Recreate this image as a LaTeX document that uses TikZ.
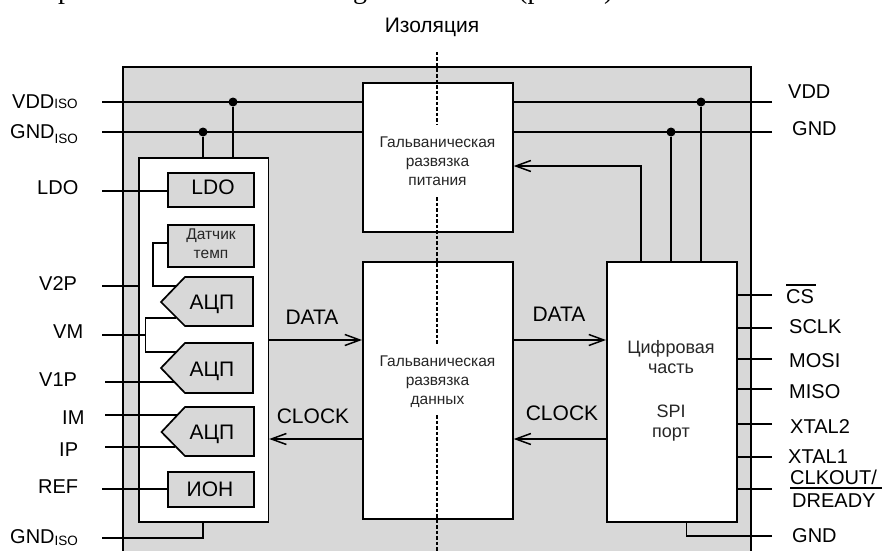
\documentclass[tikz,border=0pt]{standalone}
\usepackage{fontspec}
\setmainfont{Liberation Sans}
\newfontfamily\serifcut{Liberation Serif}
\usetikzlibrary{arrows.meta,calc}
\definecolor{panel}{HTML}{D8D8D8}
\tikzset{
  wire/.style={line width=1.7pt,line cap=butt},
  flow/.style={wire,-{Straight Barb[length=15pt,width=11pt,line width=1.5pt]}},
  block/.style={draw,line width=1.7pt,fill=white,inner sep=0pt,anchor=north west},
  subblock/.style={draw,line width=1.7pt,fill=panel,inner sep=0pt,anchor=north west},
  adcshape/.style={draw,line width=1.7pt,fill=panel},
  pin/.style={inner sep=0pt,anchor=base west,font=\fontsize{20}{24}\selectfont},
  lbl/.style={inner sep=0pt,anchor=base,font=\fontsize{21}{24}\selectfont},
  small/.style={inner sep=0pt,anchor=center,align=center,font=\fontsize{15.5}{19}\selectfont,text=black!85},
  mid/.style={inner sep=0pt,anchor=center,align=center,font=\fontsize{18}{20.5}\selectfont,text=black!85},
  junction/.style={circle,fill=black,inner sep=0pt,minimum size=9pt},
  isoline/.style={line width=2pt,dash pattern=on 3.5pt off 2pt}
}
\newcommand{\isotext}{\fontsize{13.5}{14}\selectfont ISO}
\begin{document}
\begin{tikzpicture}[x=1pt,y=-1pt]
\useasboundingbox (0,0) rectangle (883,551);
% cut-off line of text at the top edge
\begin{scope}
\clip (0,0) rectangle (883,6);
\node[inner sep=0pt,anchor=base west,font=\serifcut\fontsize{28}{30}\selectfont] (cutp) at (58,-1) {р};
\node[inner sep=0pt,anchor=base west,font=\serifcut\fontsize{28}{30}\selectfont] (cutg) at (353,-1) {g};
\node[inner sep=0pt,anchor=base west,font=\serifcut\fontsize{28}{30}\selectfont] (cutq) at (518,-1) {(р};
\node[inner sep=0pt,anchor=base west,font=\serifcut\fontsize{28}{30}\selectfont] (cutr) at (604,-1) {)};
\end{scope}
% chip panel
\fill[panel] (123,67) rectangle (751,551);
\draw[wire] (123,551) -- (123,67) -- (751,67) -- (751,551);
% pin ends
\coordinate (vddL) at (102,102);
\coordinate (gndL) at (102,132);
\coordinate (ldoL) at (102,191);
\coordinate (v2pL) at (102,286);
\coordinate (vmL) at (102,335);
\coordinate (v1pL) at (105,382);
\coordinate (imL) at (105,415);
\coordinate (ipL) at (105,447);
\coordinate (refL) at (102,489);
\coordinate (gnd2L) at (102,538);
\coordinate (vddR) at (772,102);
\coordinate (gndR) at (772,132);
\coordinate (csR) at (772,295);
\coordinate (sclkR) at (772,328);
\coordinate (mosiR) at (772,359);
\coordinate (misoR) at (772,389);
\coordinate (xt2R) at (772,424);
\coordinate (xt1R) at (772,457);
\coordinate (clkR) at (772,489);
\coordinate (gnd3R) at (772,536);
% main blocks
\node[block,minimum width=150pt,minimum height=149pt] (power) at (362,82) {};
\node[block,minimum width=150pt,minimum height=257pt] (data) at (362,261) {};
\node[block,minimum width=130pt,minimum height=260pt] (digital) at (606,261) {};
\node[block,minimum width=129.5pt,minimum height=364pt] (analog) at (138,157) {};
% analog sub-blocks
\node[subblock,minimum width=86pt,minimum height=34pt] (ldo) at (167,172) {};
\node[subblock,minimum width=86pt,minimum height=42pt] (temp) at (167,224) {};
\node[subblock,minimum width=86pt,minimum height=35pt] (ion) at (167,471) {};
\draw[adcshape] (185,277) -- (253,277) -- (253,326) -- (185,326) -- (161,302) -- cycle;
\draw[adcshape] (185,343) -- (253,343) -- (253,393) -- (185,393) -- (161,368) -- cycle;
\draw[adcshape] (185,407) -- (254,407) -- (254,456) -- (185,456) -- (161.5,432) -- cycle;
\coordinate (adc1a) at (176.4,286);
\coordinate (adc1b) at (176.4,318);
\coordinate (adc2a) at (176,352);
\coordinate (adc2b) at (174.4,382);
\coordinate (adc3a) at (177,415);
\coordinate (adc3b) at (175.4,447);
% isolation line
\coordinate (iso0) at (436.5,52);
\coordinate (iso1) at (436.5,125);
\coordinate (iso2) at (436.5,197);
\coordinate (iso3) at (436.5,345);
\coordinate (iso4) at (436.5,415);
\coordinate (iso5) at (436.5,551);
\draw[isoline] (iso0) -- (iso1);
\draw[isoline] (iso2) -- (iso3);
\draw[isoline] (iso4) -- (iso5);
% junctions
\node[junction] (jv1) at (233,102) {};
\node[junction] (jg1) at (203,132) {};
\node[junction] (jv2) at (701,102) {};
\node[junction] (jg2) at (671,132) {};
% wires
\draw[wire] (vddL) -- (vddL -| power.west);
\draw[wire] (gndL) -- (gndL -| power.west);
\draw[wire] (vddR) -- (vddR -| power.east);
\draw[wire] (gndR) -- (gndR -| power.east);
\draw[wire] (jv1) -- (jv1 |- analog.north);
\draw[wire] (jg1) -- (jg1 |- analog.north);
\draw[wire] (jv2) -- (jv2 |- digital.north);
\draw[wire] (jg2) -- (jg2 |- digital.north);
\coordinate (pwrctl) at (641,166);
\draw[flow] (pwrctl |- digital.north) -- (pwrctl) -- (pwrctl -| power.east);
\draw[wire] (ldoL) -- (ldoL -| ldo.west);
\draw[wire] (v2pL) -- (v2pL -| analog.west);
\coordinate (tb) at (153,243);
\draw[wire] (tb -| temp.west) -- (tb) -- (tb |- adc1a) -- (adc1a);
\coordinate (vmn) at (145.5,335);
\draw[wire] (vmL) -- (vmn);
\draw[wire] (adc1b) -- (adc1b -| vmn) -- (adc2a -| vmn) -- (adc2a);
\draw[wire] (v1pL) -- (adc2b);
\draw[wire] (imL) -- (adc3a);
\draw[wire] (ipL) -- (adc3b);
\draw[wire] (refL) -- (refL -| ion.west);
\coordinate (g2) at (203,538);
\draw[wire] (gnd2L) -- (g2) -- (g2 |- analog.south);
\coordinate (yd) at (0,340);
\coordinate (yc) at (0,439);
\draw[flow] (yd -| analog.east) -- (yd -| data.west);
\draw[flow] (yc -| data.west) -- (yc -| analog.east);
\draw[flow] (yd -| data.east) -- (yd -| digital.west);
\draw[flow] (yc -| digital.west) -- (yc -| data.east);
\draw[wire] (csR) -- (csR -| digital.east);
\draw[wire] (sclkR) -- (sclkR -| digital.east);
\draw[wire] (mosiR) -- (mosiR -| digital.east);
\draw[wire] (misoR) -- (misoR -| digital.east);
\draw[wire] (xt2R) -- (xt2R -| digital.east);
\draw[wire] (xt1R) -- (xt1R -| digital.east);
\draw[wire] (clkR) -- (clkR -| digital.east);
\coordinate (g3) at (686.5,536);
\draw[wire] (gnd3R) -- (g3) -- (g3 |- digital.south);
% left labels
\node[pin] (tVDD) at (12,108) {VDD\isotext};
\node[pin] (tGND) at (10,138) {GND\raisebox{-5pt}{\isotext}};
\node[pin] (tLDO) at (37,194) {LDO};
\node[pin] (tV2P) at (39,290) {V2P};
\node[pin] (tVM) at (53,338) {VM};
\node[pin] (tV1P) at (39,386) {V1P};
\node[pin] (tIM) at (62,424) {IM};
\node[pin] (tIP) at (59,456) {IP};
\node[pin] (tREF) at (38,493) {REF};
\node[pin] (tGND2) at (10,543) {GND\raisebox{-2pt}{\isotext}};
% right labels
\node[pin] (tVDDr) at (788,98) {VDD};
\node[pin] (tGNDr) at (792,135) {GND};
\node[pin] (tCS) at (786,303) {CS};
\draw[line width=1.2pt] (786,285) -- (816,285);
\node[pin] (tSCLK) at (789,333) {SCLK};
\node[pin] (tMOSI) at (789,367) {MOSI};
\node[pin] (tMISO) at (789,398) {MISO};
\node[pin] (tX2) at (790,433) {XTAL2};
\node[pin] (tX1) at (788,463) {XTAL1};
\node[pin] (tCK) at (790,484) {CLKOUT/};
\draw[line width=1.2pt] (790,488) -- (882,488);
\node[pin] (tDR) at (792,507) {DREADY};
\node[pin] (tGND3) at (792,542) {GND};
% signal labels
\node[lbl] (tD1) at (312,324) {DATA};
\node[lbl] (tC1) at (313,423) {CLOCK};
\node[lbl] (tD2) at (559,321) {DATA};
\node[lbl] (tC2) at (562,420) {CLOCK};
% sub-block labels
\node[lbl] (tLDOb) at (213,194) {LDO};
\node[lbl] (tA1) at (212,309) {АЦП};
\node[lbl] (tA2) at (212,376) {АЦП};
\node[lbl] (tA3) at (212,439) {АЦП};
\node[lbl] (tION) at (210,496) {ИОН};
\node[small] (tTemp) at (211,244) {Датчик\\темп};
\node[small] (tPow) at (437.5,161) {Гальваническая\\развязка\\питания};
\node[small] (tDat) at (437.5,382) {Гальваническая\\развязка\\данных};
\node[mid] (tDig1) at (671,357) {Цифровая\\часть};
\node[mid] (tDig2) at (671,423) {SPI\\порт};
\node[inner sep=0pt,anchor=base,font=\fontsize{21}{24}\selectfont] (tIso) at (432,33) {Изоляция};
\end{tikzpicture}
\end{document}
